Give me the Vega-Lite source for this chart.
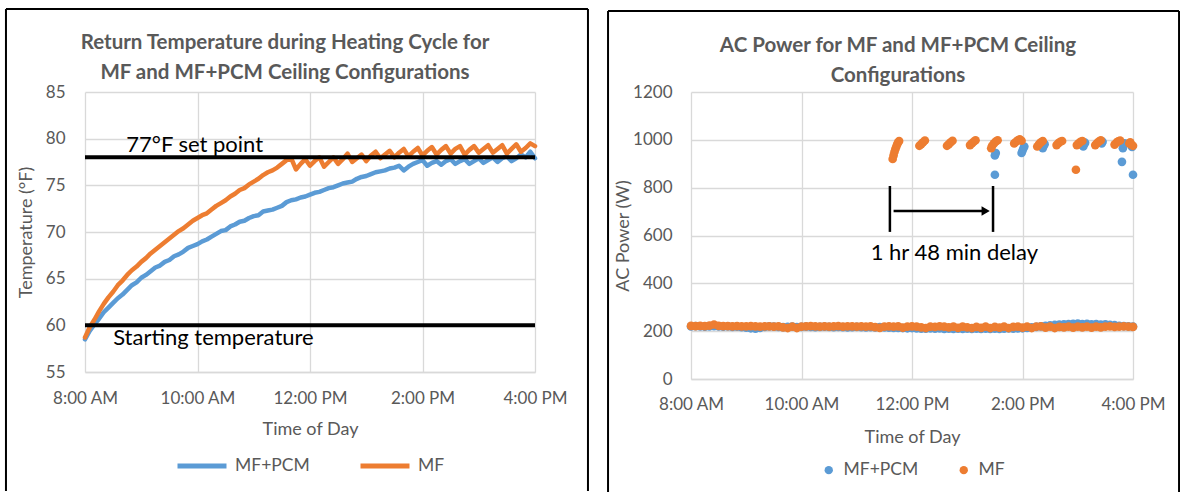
{
  "$schema": "https://vega.github.io/schema/vega-lite/v6.json",
  "background": "white",
  "padding": {"left": 4, "top": 8, "right": 0, "bottom": 0},
  "config": {
    "font": "Lato",
    "view": {"stroke": null},
    "axis": {"labelColor": "#595959", "titleColor": "#595959", "labelFontSize": 17, "titleFontSize": 18, "titleFontWeight": "normal", "gridColor": "#D9D9D9", "gridWidth": 1.3, "ticks": false, "domain": false},
    "axisX": {"domain": true, "domainColor": "#D9D9D9", "domainWidth": 1.5},
    "title": {"fontSize": 20.5, "fontWeight": "bold", "color": "#595959", "lineHeight": 30},
    "legend": {"labelColor": "#595959", "labelFontSize": 17.5, "layout": {"bottom": {"anchor": "middle"}}}
  },
  "spacing": 18,
  "resolve": {"scale": {"color": "independent"}, "legend": {"color": "independent"}},
  "hconcat": [
    {
      "width": 450,
      "height": 280,
      "title": {"text": ["Return Temperature during Heating Cycle for", "MF and MF+PCM Ceiling Configurations"], "offset": -75, "dx": -25},
      "data": {"values": [
        {"t":480,"MF+PCM":58.5,"MF":58.7},{"t":485,"MF+PCM":59.4,"MF":59.8},{"t":490,"MF+PCM":60.1,"MF":60.6},{"t":495,"MF+PCM":60.7,"MF":61.5},
        {"t":500,"MF+PCM":61.4,"MF":62.3},{"t":505,"MF+PCM":61.9,"MF":63.0},{"t":510,"MF+PCM":62.4,"MF":63.6},{"t":515,"MF+PCM":62.9,"MF":64.3},
        {"t":520,"MF+PCM":63.3,"MF":64.8},{"t":525,"MF+PCM":63.8,"MF":65.4},{"t":530,"MF+PCM":64.3,"MF":65.9},{"t":535,"MF+PCM":64.6,"MF":66.3},
        {"t":540,"MF+PCM":65.1,"MF":66.8},{"t":545,"MF+PCM":65.4,"MF":67.2},{"t":550,"MF+PCM":65.8,"MF":67.7},{"t":555,"MF+PCM":66.2,"MF":68.1},
        {"t":560,"MF+PCM":66.4,"MF":68.5},{"t":565,"MF+PCM":66.8,"MF":68.9},{"t":570,"MF+PCM":67.0,"MF":69.3},{"t":575,"MF+PCM":67.4,"MF":69.7},
        {"t":580,"MF+PCM":67.6,"MF":70.1},{"t":585,"MF+PCM":67.9,"MF":70.4},{"t":590,"MF+PCM":68.3,"MF":70.8},{"t":595,"MF+PCM":68.5,"MF":71.2},
        {"t":600,"MF+PCM":68.7,"MF":71.5},{"t":605,"MF+PCM":69.0,"MF":71.8},{"t":610,"MF+PCM":69.2,"MF":72.0},{"t":615,"MF+PCM":69.5,"MF":72.4},
        {"t":620,"MF+PCM":69.8,"MF":72.8},{"t":625,"MF+PCM":70.1,"MF":73.1},{"t":630,"MF+PCM":70.2,"MF":73.4},{"t":635,"MF+PCM":70.6,"MF":73.8},
        {"t":640,"MF+PCM":70.8,"MF":74.1},{"t":645,"MF+PCM":71.1,"MF":74.5},{"t":650,"MF+PCM":71.2,"MF":74.7},{"t":655,"MF+PCM":71.5,"MF":75.1},
        {"t":660,"MF+PCM":71.7,"MF":75.4},{"t":665,"MF+PCM":71.8,"MF":75.7},{"t":670,"MF+PCM":72.2,"MF":76.1},{"t":675,"MF+PCM":72.3,"MF":76.4},
        {"t":680,"MF+PCM":72.4,"MF":76.6},{"t":685,"MF+PCM":72.6,"MF":76.9},{"t":690,"MF+PCM":72.8,"MF":77.3},{"t":695,"MF+PCM":73.2,"MF":77.7},
        {"t":700,"MF+PCM":73.4,"MF":77.9},{"t":705,"MF+PCM":73.5,"MF":76.7},{"t":710,"MF+PCM":73.7,"MF":77.3},{"t":715,"MF+PCM":73.8,"MF":77.8},
        {"t":720,"MF+PCM":74.0,"MF":77.1},{"t":725,"MF+PCM":74.2,"MF":77.6},{"t":730,"MF+PCM":74.3,"MF":78.0},{"t":735,"MF+PCM":74.5,"MF":77.0},
        {"t":740,"MF+PCM":74.7,"MF":77.5},{"t":745,"MF+PCM":74.8,"MF":78.0},{"t":750,"MF+PCM":75.0,"MF":77.3},{"t":755,"MF+PCM":75.2,"MF":77.8},
        {"t":760,"MF+PCM":75.3,"MF":78.4},{"t":765,"MF+PCM":75.4,"MF":77.5},{"t":770,"MF+PCM":75.7,"MF":77.9},{"t":775,"MF+PCM":75.9,"MF":78.3},
        {"t":780,"MF+PCM":76.0,"MF":77.6},{"t":785,"MF+PCM":76.2,"MF":78.2},{"t":790,"MF+PCM":76.4,"MF":78.6},{"t":795,"MF+PCM":76.5,"MF":77.9},
        {"t":800,"MF+PCM":76.6,"MF":78.3},{"t":805,"MF+PCM":76.8,"MF":78.7},{"t":810,"MF+PCM":76.9,"MF":78.0},{"t":815,"MF+PCM":77.1,"MF":78.5},
        {"t":820,"MF+PCM":76.6,"MF":78.9},{"t":825,"MF+PCM":77.0,"MF":78.1},{"t":830,"MF+PCM":77.3,"MF":78.6},{"t":835,"MF+PCM":77.5,"MF":79.0},
        {"t":840,"MF+PCM":77.7,"MF":78.2},{"t":845,"MF+PCM":77.1,"MF":78.7},{"t":850,"MF+PCM":77.4,"MF":79.1},{"t":855,"MF+PCM":77.6,"MF":78.3},
        {"t":860,"MF+PCM":77.2,"MF":78.8},{"t":865,"MF+PCM":77.6,"MF":79.2},{"t":870,"MF+PCM":77.8,"MF":78.4},{"t":875,"MF+PCM":77.3,"MF":78.9},
        {"t":880,"MF+PCM":77.6,"MF":79.2},{"t":885,"MF+PCM":77.8,"MF":78.3},{"t":890,"MF+PCM":77.3,"MF":78.8},{"t":895,"MF+PCM":77.6,"MF":79.2},
        {"t":900,"MF+PCM":77.9,"MF":78.5},{"t":905,"MF+PCM":77.4,"MF":78.9},{"t":910,"MF+PCM":77.7,"MF":79.3},{"t":915,"MF+PCM":78.0,"MF":78.5},
        {"t":920,"MF+PCM":77.5,"MF":78.9},{"t":925,"MF+PCM":77.9,"MF":79.3},{"t":930,"MF+PCM":78.1,"MF":78.4},{"t":935,"MF+PCM":77.6,"MF":78.9},
        {"t":940,"MF+PCM":77.9,"MF":79.4},{"t":945,"MF+PCM":78.3,"MF":78.6},{"t":950,"MF+PCM":78.0,"MF":79.0},{"t":955,"MF+PCM":78.6,"MF":79.5},
        {"t":960,"MF+PCM":77.9,"MF":79.2}
      ]},
      "layer": [
        {
          "transform": [{"fold": ["MF+PCM"], "as": ["s", "v"]}],
          "mark": {"type": "line", "strokeWidth": 4.5, "strokeCap": "round", "strokeJoin": "round"},
          "encoding": {
            "x": {"field": "t", "type": "quantitative", "scale": {"domain": [480, 960], "nice": false, "zero": false}, "axis": {"title": "Time of Day", "values": [480, 600, 720, 840, 960], "labelExpr": "(floor(datum.value / 60) % 12 == 0 ? 12 : floor(datum.value / 60) % 12) + ':00 ' + (datum.value < 720 ? 'AM' : 'PM')", "labelPadding": 18, "titlePadding": 14, "labelFlush": false}},
            "y": {"field": "v", "type": "quantitative", "scale": {"domain": [55, 85], "nice": false, "zero": false}, "axis": {"title": "Temperature (°F)", "values": [55, 60, 65, 70, 75, 80, 85], "labelPadding": 20, "titlePadding": 10}},
            "color": {"field": "s", "type": "nominal", "scale": {"domain": ["MF+PCM", "MF"], "range": ["#5B9BD5", "#ED7D31"]}, "legend": {"orient": "bottom", "direction": "horizontal", "title": null, "symbolType": "stroke", "symbolStrokeWidth": 5, "symbolSize": 2400, "labelOffset": 6, "columnPadding": 40, "offset": 1}}
          }
        },
        {
          "transform": [{"fold": ["MF"], "as": ["s", "v"]}],
          "mark": {"type": "line", "strokeWidth": 4.5, "strokeCap": "round", "strokeJoin": "round"},
          "encoding": {
            "x": {"field": "t", "type": "quantitative"},
            "y": {"field": "v", "type": "quantitative"},
            "color": {"field": "s", "type": "nominal"}
          }
        },
        {
          "data": {"values": [{"level": 78}, {"level": 60}]},
          "mark": {"type": "rule", "color": "black", "strokeWidth": 4},
          "encoding": {"y": {"field": "level", "type": "quantitative"}}
        },
        {
          "data": {"values": [{"t": 524, "v": 78, "label": "77°F set point"}]},
          "mark": {"type": "text", "align": "left", "baseline": "alphabetic", "dy": -5, "fontSize": 22, "color": "black"},
          "encoding": {"x": {"field": "t", "type": "quantitative"}, "y": {"field": "v", "type": "quantitative"}, "text": {"field": "label", "type": "nominal"}}
        },
        {
          "data": {"values": [{"t": 510, "v": 60, "label": "Starting temperature"}]},
          "mark": {"type": "text", "align": "left", "baseline": "alphabetic", "dy": 20, "fontSize": 22, "color": "black"},
          "encoding": {"x": {"field": "t", "type": "quantitative"}, "y": {"field": "v", "type": "quantitative"}, "text": {"field": "label", "type": "nominal"}}
        },
        {
          "data": {"values": [{}]},
          "mark": {"type": "rule", "color": "black", "strokeWidth": 2},
          "encoding": {"x": {"datum": 395.7}, "y": {"datum": 93.89}, "y2": {"datum": 42.25}}
        },
        {
          "data": {"values": [{}]},
          "mark": {"type": "rule", "color": "black", "strokeWidth": 2},
          "encoding": {"x": {"datum": 1016.5}, "y": {"datum": 93.89}, "y2": {"datum": 42.25}}
        },
        {
          "data": {"values": [{}]},
          "mark": {"type": "rule", "color": "black", "strokeWidth": 2},
          "encoding": {"x": {"datum": 395.7}, "x2": {"datum": 1016.5}, "y": {"datum": 93.89}}
        }
      ]
    },
    {
      "width": 442,
      "height": 287,
      "title": {"text": ["AC Power for MF and MF+PCM Ceiling", "Configurations"], "offset": -77, "dx": -14},
      "data": {"values": [
        {"t":480,"MF+PCM":220,"MF":222},{"t":485,"MF+PCM":221,"MF":221},{"t":490,"MF+PCM":220,"MF":222},{"t":495,"MF+PCM":219,"MF":221},
        {"t":500,"MF+PCM":220,"MF":223},{"t":505,"MF+PCM":221,"MF":228},{"t":510,"MF+PCM":220,"MF":222},{"t":515,"MF+PCM":219,"MF":221},
        {"t":520,"MF+PCM":220,"MF":221},{"t":525,"MF+PCM":218,"MF":220},{"t":530,"MF+PCM":219,"MF":221},{"t":535,"MF+PCM":217,"MF":220},
        {"t":540,"MF+PCM":215,"MF":220},{"t":545,"MF+PCM":212,"MF":221},{"t":550,"MF+PCM":210,"MF":220},{"t":555,"MF+PCM":214,"MF":219},
        {"t":560,"MF+PCM":218,"MF":220},{"t":565,"MF+PCM":220,"MF":220},{"t":570,"MF+PCM":219,"MF":219},{"t":575,"MF+PCM":218,"MF":220},
        {"t":580,"MF+PCM":217,"MF":216},{"t":585,"MF+PCM":218,"MF":213},{"t":590,"MF+PCM":219,"MF":219},{"t":595,"MF+PCM":217,"MF":213},
        {"t":600,"MF+PCM":218,"MF":219},{"t":605,"MF+PCM":219,"MF":220},{"t":610,"MF+PCM":218,"MF":221},{"t":615,"MF+PCM":217,"MF":220},
        {"t":620,"MF+PCM":218,"MF":219},{"t":625,"MF+PCM":219,"MF":220},{"t":630,"MF+PCM":218,"MF":219},{"t":635,"MF+PCM":217,"MF":220},
        {"t":640,"MF+PCM":218,"MF":221},{"t":645,"MF+PCM":217,"MF":219},{"t":650,"MF+PCM":216,"MF":220},{"t":655,"MF+PCM":217,"MF":220},
        {"t":660,"MF+PCM":218,"MF":219},{"t":665,"MF+PCM":217,"MF":220},{"t":670,"MF+PCM":216,"MF":219},{"t":675,"MF+PCM":217,"MF":220},
        {"t":680,"MF+PCM":216,"MF":217},{"t":685,"MF+PCM":217,"MF":214},{"t":690,"MF+PCM":216,"MF":219},{"t":695,"MF+PCM":215,"MF":220},
        {"t":700,"MF+PCM":214,"MF":219},{"t":705,"MF+PCM":214,"MF":220},{"t":710,"MF+PCM":213,"MF":215},{"t":715,"MF+PCM":212,"MF":219},
        {"t":720,"MF+PCM":213,"MF":220},{"t":725,"MF+PCM":211,"MF":219},{"t":730,"MF+PCM":210,"MF":216},{"t":735,"MF+PCM":210,"MF":213},
        {"t":740,"MF+PCM":211,"MF":219},{"t":745,"MF+PCM":210,"MF":218},{"t":750,"MF+PCM":211,"MF":220},{"t":755,"MF+PCM":209,"MF":219},
        {"t":760,"MF+PCM":210,"MF":216},{"t":765,"MF+PCM":209,"MF":219},{"t":770,"MF+PCM":210,"MF":214},{"t":775,"MF+PCM":209,"MF":219},
        {"t":780,"MF+PCM":210,"MF":216},{"t":785,"MF+PCM":209,"MF":213},{"t":790,"MF+PCM":210,"MF":218},{"t":795,"MF+PCM":209,"MF":214},
        {"t":800,"MF+PCM":210,"MF":219},{"t":805,"MF+PCM":209,"MF":213},{"t":810,"MF+PCM":210,"MF":218},{"t":815,"MF+PCM":209,"MF":215},
        {"t":820,"MF+PCM":210,"MF":219},{"t":825,"MF+PCM":211,"MF":213},{"t":830,"MF+PCM":210,"MF":218},{"t":835,"MF+PCM":211,"MF":219},
        {"t":840,"MF+PCM":212,"MF":215},{"t":845,"MF+PCM":214,"MF":219},{"t":850,"MF+PCM":216,"MF":213},{"t":855,"MF+PCM":218,"MF":219},
        {"t":860,"MF+PCM":220,"MF":220},{"t":865,"MF+PCM":222,"MF":215},{"t":870,"MF+PCM":224,"MF":219},{"t":875,"MF+PCM":226,"MF":213},
        {"t":880,"MF+PCM":228,"MF":218},{"t":885,"MF+PCM":229,"MF":216},{"t":890,"MF+PCM":230,"MF":219},{"t":895,"MF+PCM":231,"MF":215},
        {"t":900,"MF+PCM":232,"MF":219},{"t":905,"MF+PCM":230,"MF":216},{"t":910,"MF+PCM":231,"MF":219},{"t":915,"MF+PCM":229,"MF":215},
        {"t":920,"MF+PCM":230,"MF":219},{"t":925,"MF+PCM":228,"MF":216},{"t":930,"MF+PCM":229,"MF":219},{"t":935,"MF+PCM":226,"MF":220},
        {"t":940,"MF+PCM":225,"MF":218},{"t":945,"MF+PCM":222,"MF":219},{"t":950,"MF+PCM":221,"MF":220},{"t":955,"MF+PCM":220,"MF":219},
        {"t":960,"MF+PCM":219,"MF":218}
      ]},
      "layer": [
        {
          "transform": [{"fold": ["MF+PCM"], "as": ["s", "p"]}],
          "mark": {"type": "point", "filled": true, "size": 75, "opacity": 1},
          "encoding": {
            "x": {"field": "t", "type": "quantitative", "scale": {"domain": [480, 960], "nice": false, "zero": false}, "axis": {"title": "Time of Day", "values": [480, 600, 720, 840, 960], "labelExpr": "(floor(datum.value / 60) % 12 == 0 ? 12 : floor(datum.value / 60) % 12) + ':00 ' + (datum.value < 720 ? 'AM' : 'PM')", "labelPadding": 17, "titlePadding": 16, "labelFlush": false}},
            "y": {"field": "p", "type": "quantitative", "scale": {"domain": [0, 1200], "nice": false}, "axis": {"title": "AC Power (W)", "values": [0, 200, 400, 600, 800, 1000, 1200], "format": "d", "labelPadding": 19, "titlePadding": 0}},
            "color": {"field": "s", "type": "nominal", "scale": {"domain": ["MF+PCM", "MF"], "range": ["#5B9BD5", "#ED7D31"]}, "legend": {"orient": "bottom", "direction": "horizontal", "title": null, "symbolType": "circle", "symbolSize": 70, "labelOffset": 6, "columnPadding": 36, "offset": 15}}
          }
        },
        {
          "transform": [{"fold": ["MF"], "as": ["s", "p"]}],
          "mark": {"type": "point", "filled": true, "size": 75, "opacity": 1},
          "encoding": {
            "x": {"field": "t", "type": "quantitative"},
            "y": {"field": "p", "type": "quantitative"},
            "color": {"field": "s", "type": "nominal"}
          }
        },
        {
          "data": {"values": [
            {"t":810,"s":"MF+PCM","p":854},{"t":810,"s":"MF+PCM","p":935},{"t":811,"s":"MF+PCM","p":945},
            {"t":839,"s":"MF+PCM","p":945},{"t":840,"s":"MF+PCM","p":955},{"t":841,"s":"MF+PCM","p":965},{"t":842,"s":"MF+PCM","p":972},
            {"t":862,"s":"MF+PCM","p":965},{"t":863,"s":"MF+PCM","p":975},{"t":864,"s":"MF+PCM","p":982},
            {"t":906,"s":"MF+PCM","p":972},{"t":907,"s":"MF+PCM","p":982},{"t":908,"s":"MF+PCM","p":988},
            {"t":926,"s":"MF+PCM","p":985},{"t":927,"s":"MF+PCM","p":992},
            {"t":948,"s":"MF+PCM","p":908},{"t":949,"s":"MF+PCM","p":965},{"t":950,"s":"MF+PCM","p":978},{"t":951,"s":"MF+PCM","p":985},
            {"t":959,"s":"MF+PCM","p":970},{"t":960,"s":"MF+PCM","p":854},
            {"t":699,"s":"MF","p":920},{"t":700,"s":"MF","p":935},{"t":701,"s":"MF","p":950},{"t":702,"s":"MF","p":962},{"t":703,"s":"MF","p":972},{"t":704,"s":"MF","p":982},{"t":705,"s":"MF","p":990},{"t":706,"s":"MF","p":995},
            {"t":728,"s":"MF","p":975},{"t":730,"s":"MF","p":982},{"t":732,"s":"MF","p":990},{"t":734,"s":"MF","p":997},
            {"t":758,"s":"MF","p":975},{"t":760,"s":"MF","p":982},{"t":762,"s":"MF","p":990},{"t":764,"s":"MF","p":996},
            {"t":783,"s":"MF","p":978},{"t":785,"s":"MF","p":985},{"t":787,"s":"MF","p":992},{"t":789,"s":"MF","p":998},
            {"t":806,"s":"MF","p":965},{"t":807,"s":"MF","p":975},{"t":809,"s":"MF","p":985},{"t":811,"s":"MF","p":993},{"t":813,"s":"MF","p":998},
            {"t":831,"s":"MF","p":985},{"t":833,"s":"MF","p":992},{"t":835,"s":"MF","p":998},{"t":837,"s":"MF","p":1002},{"t":839,"s":"MF","p":996},
            {"t":856,"s":"MF","p":972},{"t":858,"s":"MF","p":982},{"t":860,"s":"MF","p":990},{"t":862,"s":"MF","p":995},
            {"t":877,"s":"MF","p":978},{"t":879,"s":"MF","p":986},{"t":881,"s":"MF","p":992},{"t":883,"s":"MF","p":995},
            {"t":898,"s":"MF","p":875},{"t":899,"s":"MF","p":978},{"t":901,"s":"MF","p":985},{"t":903,"s":"MF","p":992},{"t":905,"s":"MF","p":995},
            {"t":919,"s":"MF","p":978},{"t":921,"s":"MF","p":986},{"t":923,"s":"MF","p":993},{"t":925,"s":"MF","p":998},
            {"t":940,"s":"MF","p":980},{"t":942,"s":"MF","p":988},{"t":944,"s":"MF","p":994},{"t":946,"s":"MF","p":997},
            {"t":956,"s":"MF","p":985},{"t":957,"s":"MF","p":990},{"t":958,"s":"MF","p":980},{"t":960,"s":"MF","p":975}
          ]},
          "mark": {"type": "point", "filled": true, "size": 75, "opacity": 1},
          "encoding": {
            "x": {"field": "t", "type": "quantitative"},
            "y": {"field": "p", "type": "quantitative"},
            "color": {"field": "s", "type": "nominal"}
          }
        },
        {
          "data": {"values": [{"t": 696, "lo": 615, "hi": 807}, {"t": 808, "lo": 615, "hi": 807}]},
          "mark": {"type": "rule", "color": "black", "strokeWidth": 2.5},
          "encoding": {"x": {"field": "t", "type": "quantitative"}, "y": {"field": "lo", "type": "quantitative"}, "y2": {"field": "hi"}}
        },
        {
          "data": {"values": [{"t": 700, "t2": 799, "v": 702}]},
          "mark": {"type": "rule", "color": "black", "strokeWidth": 2.5},
          "encoding": {"x": {"field": "t", "type": "quantitative"}, "x2": {"field": "t2"}, "y": {"field": "v", "type": "quantitative"}}
        },
        {
          "data": {"values": [{"t": 800, "v": 702}]},
          "mark": {"type": "point", "shape": "triangle-right", "filled": true, "color": "black", "size": 90, "opacity": 1},
          "encoding": {"x": {"field": "t", "type": "quantitative"}, "y": {"field": "v", "type": "quantitative"}}
        },
        {
          "data": {"values": [{"t": 766, "v": 497, "label": "1 hr 48 min delay"}]},
          "mark": {"type": "text", "align": "center", "baseline": "alphabetic", "fontSize": 22, "color": "black"},
          "encoding": {"x": {"field": "t", "type": "quantitative"}, "y": {"field": "v", "type": "quantitative"}, "text": {"field": "label", "type": "nominal"}}
        },
        {
          "data": {"values": [{}]},
          "mark": {"type": "rule", "color": "black", "strokeWidth": 2},
          "encoding": {"x": {"datum": 389.9}, "y": {"datum": 1538.7}, "y2": {"datum": -476.7}}
        },
        {
          "data": {"values": [{}]},
          "mark": {"type": "rule", "color": "black", "strokeWidth": 2},
          "encoding": {"x": {"datum": 1010}, "y": {"datum": 1538.7}, "y2": {"datum": -476.7}}
        },
        {
          "data": {"values": [{}]},
          "mark": {"type": "rule", "color": "black", "strokeWidth": 2},
          "encoding": {"x": {"datum": 389.9}, "x2": {"datum": 1010}, "y": {"datum": 1538.7}}
        }
      ]
    }
  ]
}
